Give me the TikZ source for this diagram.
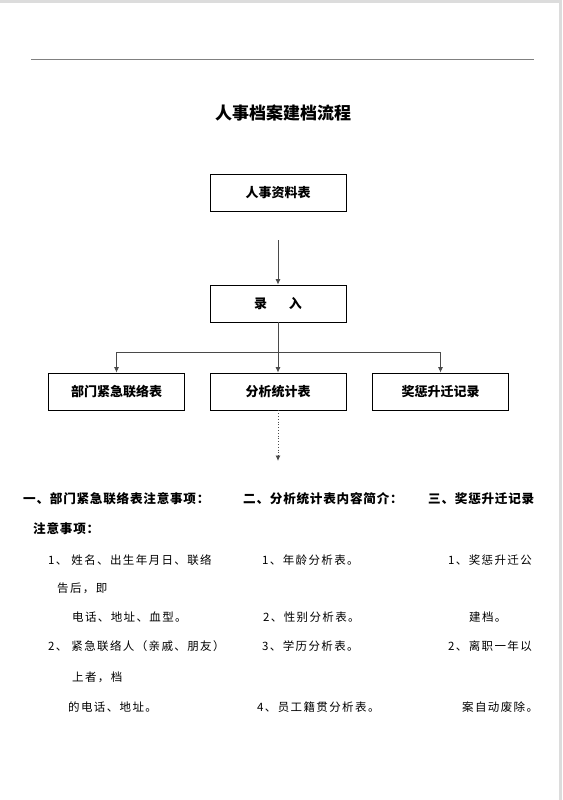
\documentclass[tikz,border=0pt]{standalone}
\usepackage{fontspec}
\setmainfont{Noto Sans CJK SC}
\newfontfamily\bodyfont[LetterSpace=12]{Noto Sans CJK SC}
\newfontfamily\headfont[LetterSpace=6]{Noto Sans CJK SC}
\usetikzlibrary{arrows.meta,positioning}
\definecolor{frameGray}{HTML}{DCDCDC}
\definecolor{ruleGray}{HTML}{808080}
\definecolor{linkGray}{HTML}{4A4A4A}

\begin{document}
\begin{tikzpicture}[x=1pt,y=-1pt,>={Latex[length=5.5pt,width=5pt]},
  box/.style={draw=black,line width=0.8pt,minimum width=136pt,minimum height=37pt,inner sep=0pt,font=\bfseries\fontsize{13}{15}\selectfont},
  conn/.style={draw=linkGray,line width=0.8pt},
  note/.style={anchor=west,inner sep=0pt,font=\bodyfont\fontsize{11.5}{13}\selectfont},
  head/.style={anchor=west,inner sep=0pt,font=\headfont\bfseries\fontsize{12.6}{14}\selectfont}]
  \useasboundingbox (0,0) rectangle (562,800);
  \fill[white] (0,0) rectangle (562,800);
  \fill[frameGray] (0,0) rectangle (562,3);
  \fill[frameGray] (559,0) rectangle (562,800);
  \draw[ruleGray,line width=1pt] (31,59.5) -- (534,59.5);
  \node[inner sep=0pt,font=\bfseries\fontsize{17}{19}\selectfont] (title) at (283,113) {人事档案建档流程};
  % flow boxes
  \node[box] (sheet) at (278,192.5) {人事资料表};
  \node[box] (entry) at (278,303.5) {录\hspace{22pt}入};
  \node[box] (contact) at (116.5,391.5) {部门紧急联络表};
  \node[box] (stats) at (278,391.5) {分析统计表};
  \node[box] (award) at (440.5,391.5) {奖惩升迁记录};
  \coordinate (feed) at (278,240);
  \coordinate (split) at (278,352);
  \coordinate (more) at (278,461);
  \draw[conn,->] (feed) -- (entry.north);
  \draw[conn,->] (entry.south) -- (stats.north);
  \draw[conn,->] (split) -| (contact.north);
  \draw[conn,->] (split) -| (award.north);
  \draw[conn,dotted,->] (stats.south) -- (more);
  % notes
  \node[head] (h1) at (23,499) {一、部门紧急联络表注意事项：};
  \node[head] (h2) at (243,499) {二、分析统计表内容简介：};
  \node[head] (h3) at (428,499) {三、奖惩升迁记录};
  \node[head] (h1b) at (33,529) {注意事项：};
  \node[note] (a1) at (48,560) {1、 姓名、出生年月日、联络};
  \node[note] (a2) at (57,588) {告后，即};
  \node[note] (a3) at (72,617) {电话、地址、血型。};
  \node[note] (a4) at (48,646) {2、 紧急联络人（亲戚、朋友）};
  \node[note] (a5) at (72,677) {上者，档};
  \node[note] (a6) at (68,707) {的电话、地址。};
  \node[note] (b1) at (262,560) {1、年龄分析表。};
  \node[note] (b2) at (263,617) {2、性别分析表。};
  \node[note] (b3) at (262,646) {3、学历分析表。};
  \node[note] (b4) at (257,707) {4、员工籍贯分析表。};
  \node[note] (c1) at (448,560) {1、奖惩升迁公};
  \node[note] (c2) at (469,617) {建档。};
  \node[note] (c3) at (448,646) {2、离职一年以};
  \node[note] (c4) at (462,707) {案自动废除。};
\end{tikzpicture}
\end{document}
